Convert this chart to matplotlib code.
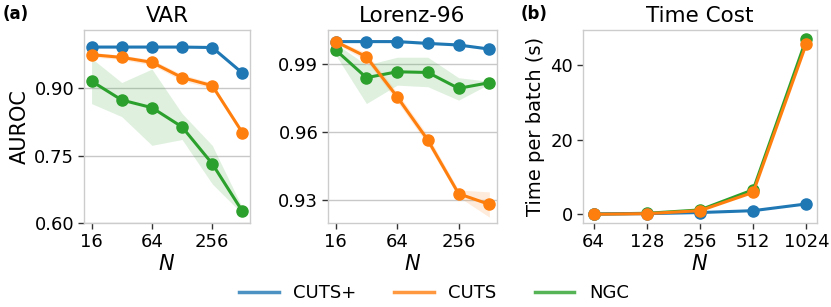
import numpy as np
import matplotlib
matplotlib.use("Agg")
import matplotlib.pyplot as plt

# --- data ---
n_auroc = [16, 32, 64, 128, 256, 512]
n_time = [64, 128, 256, 512, 1024]

var_cutsp = [0.992, 0.992, 0.992, 0.992, 0.991, 0.934]
var_cutsp_lo = [0.990, 0.990, 0.990, 0.990, 0.989, 0.930]
var_cutsp_hi = [0.994, 0.994, 0.994, 0.994, 0.993, 0.938]
var_cuts = [0.975, 0.969, 0.958, 0.924, 0.906, 0.801]
var_cuts_lo = [0.970, 0.964, 0.952, 0.917, 0.900, 0.798]
var_cuts_hi = [0.980, 0.974, 0.964, 0.931, 0.912, 0.804]
var_ngc = [0.916, 0.874, 0.857, 0.814, 0.732, 0.626]
var_ngc_lo = [0.866, 0.837, 0.773, 0.786, 0.687, 0.620]
var_ngc_hi = [0.967, 0.913, 0.943, 0.844, 0.773, 0.634]

lor_cutsp = [0.9999, 0.9999, 0.9999, 0.9991, 0.9984, 0.9966]
lor_cutsp_lo = [0.9994, 0.9994, 0.9994, 0.9986, 0.9979, 0.9961]
lor_cutsp_hi = [1.0004, 1.0004, 1.0004, 0.9996, 0.9989, 0.9971]
lor_cuts = [0.9999, 0.9932, 0.9756, 0.9565, 0.9329, 0.9282]
lor_cuts_lo = [0.9990, 0.9915, 0.9735, 0.9545, 0.9315, 0.9226]
lor_cuts_hi = [1.0005, 0.9950, 0.9775, 0.9585, 0.9345, 0.9337]
lor_ngc = [0.9962, 0.9840, 0.9866, 0.9863, 0.9793, 0.9818]
lor_ngc_lo = [0.9940, 0.9726, 0.9807, 0.9800, 0.9741, 0.9812]
lor_ngc_hi = [0.9990, 0.9896, 0.9930, 0.9930, 0.9840, 0.9824]

time_cutsp = [0.1, 0.2, 0.5, 1.0, 2.8]
time_cuts = [0.05, 0.2, 1.0, 5.9, 45.7]
time_ngc = [0.1, 0.3, 1.2, 6.6, 47.0]

C_CUTSP = "#1f77b4"
C_CUTS = "#ff7f0e"
C_NGC = "#2ca02c"
SPINE = "#cccccc"

plt.rcParams["font.family"] = "DejaVu Sans"
fig = plt.figure(figsize=(8.31, 3.07), dpi=100)
fig.set_facecolor("white")

ax1 = fig.add_axes([84 / 831, 1 - 223 / 307, 166 / 831, 193 / 307])
ax2 = fig.add_axes([328 / 831, 1 - 223 / 307, 169 / 831, 193 / 307])
ax3 = fig.add_axes([583 / 831, 1 - 223 / 307, 234 / 831, 193 / 307])


def style(ax):
    for s in ax.spines.values():
        s.set_color(SPINE)
        s.set_linewidth(1.0)
    ax.tick_params(labelsize=13, length=4, width=1, color="#333333", pad=3)
    ax.grid(axis="y", color="#c8c8c8", linewidth=1.0)
    ax.set_axisbelow(True)


def draw(ax, x, y, lo, hi, color, z):
    ax.fill_between(x, lo, hi, color=color, alpha=0.15, linewidth=0, zorder=z)
    ax.plot(x, y, "-o", color=color, lw=2.2, ms=8, zorder=z + 0.5)


for ax, data in [
    (ax1, [(var_ngc, var_ngc_lo, var_ngc_hi, C_NGC),
           (var_cutsp, var_cutsp_lo, var_cutsp_hi, C_CUTSP),
           (var_cuts, var_cuts_lo, var_cuts_hi, C_CUTS)]),
    (ax2, [(lor_ngc, lor_ngc_lo, lor_ngc_hi, C_NGC),
           (lor_cutsp, lor_cutsp_lo, lor_cutsp_hi, C_CUTSP),
           (lor_cuts, lor_cuts_lo, lor_cuts_hi, C_CUTS)]),
]:
    for i, (y, lo, hi, c) in enumerate(data):
        draw(ax, n_auroc, y, lo, hi, c, 2 + i)
    ax.set_xscale("log", base=2)
    ax.set_xticks([16, 64, 256])
    ax.set_xticklabels(["16", "64", "256"])
    ax.minorticks_off()
    ax.set_xlabel("$N$", fontsize=15, labelpad=2)
    style(ax)

ax1.set_ylim(0.60, 1.03)
ax1.set_yticks([0.60, 0.75, 0.90])
ax1.set_yticklabels(["0.60", "0.75", "0.90"])
ax1.set_ylabel("AUROC", fontsize=15, labelpad=3)
ax1.set_title("VAR", fontsize=15.5)

ax2.set_ylim(0.92, 1.005)
ax2.set_yticks([0.93, 0.96, 0.99])
ax2.set_yticklabels(["0.93", "0.96", "0.99"])
ax2.set_title("Lorenz-96", fontsize=15.5)

ax3.plot(n_time, time_ngc, "-o", color=C_NGC, lw=2.2, ms=8, zorder=2)
ax3.plot(n_time, time_cutsp, "-o", color=C_CUTSP, lw=2.2, ms=8, zorder=3)
ax3.plot(n_time, time_cuts, "-o", color=C_CUTS, lw=2.2, ms=8, zorder=4)
ax3.set_xscale("log", base=2)
ax3.set_xticks(n_time)
ax3.set_xticklabels([str(v) for v in n_time])
ax3.minorticks_off()
ax3.set_yticks([0, 20, 40])
ax3.set_xlabel("$N$", fontsize=15, labelpad=2)
ax3.set_ylabel("Time per batch (s)", fontsize=14)
ax3.set_title("Time Cost", fontsize=15.5)
style(ax3)
ax3.grid(False)

fig.text(0.003, 0.955, "(a)", fontsize=12, fontweight="bold", va="center")
fig.text(0.627, 0.955, "(b)", fontsize=12, fontweight="bold", va="center")

handles = [plt.Line2D([], [], color=c, lw=2.5, alpha=0.8) for c in (C_CUTSP, C_CUTS, C_NGC)]
fig.legend(handles, ["CUTS+", "CUTS", "NGC"], loc="center", bbox_to_anchor=(0.522, 0.045),
           ncol=3, frameon=False, fontsize=13, handlelength=2.2, handletextpad=0.8,
           columnspacing=2.1)

fig.savefig("out.png", dpi=100, facecolor="white")
